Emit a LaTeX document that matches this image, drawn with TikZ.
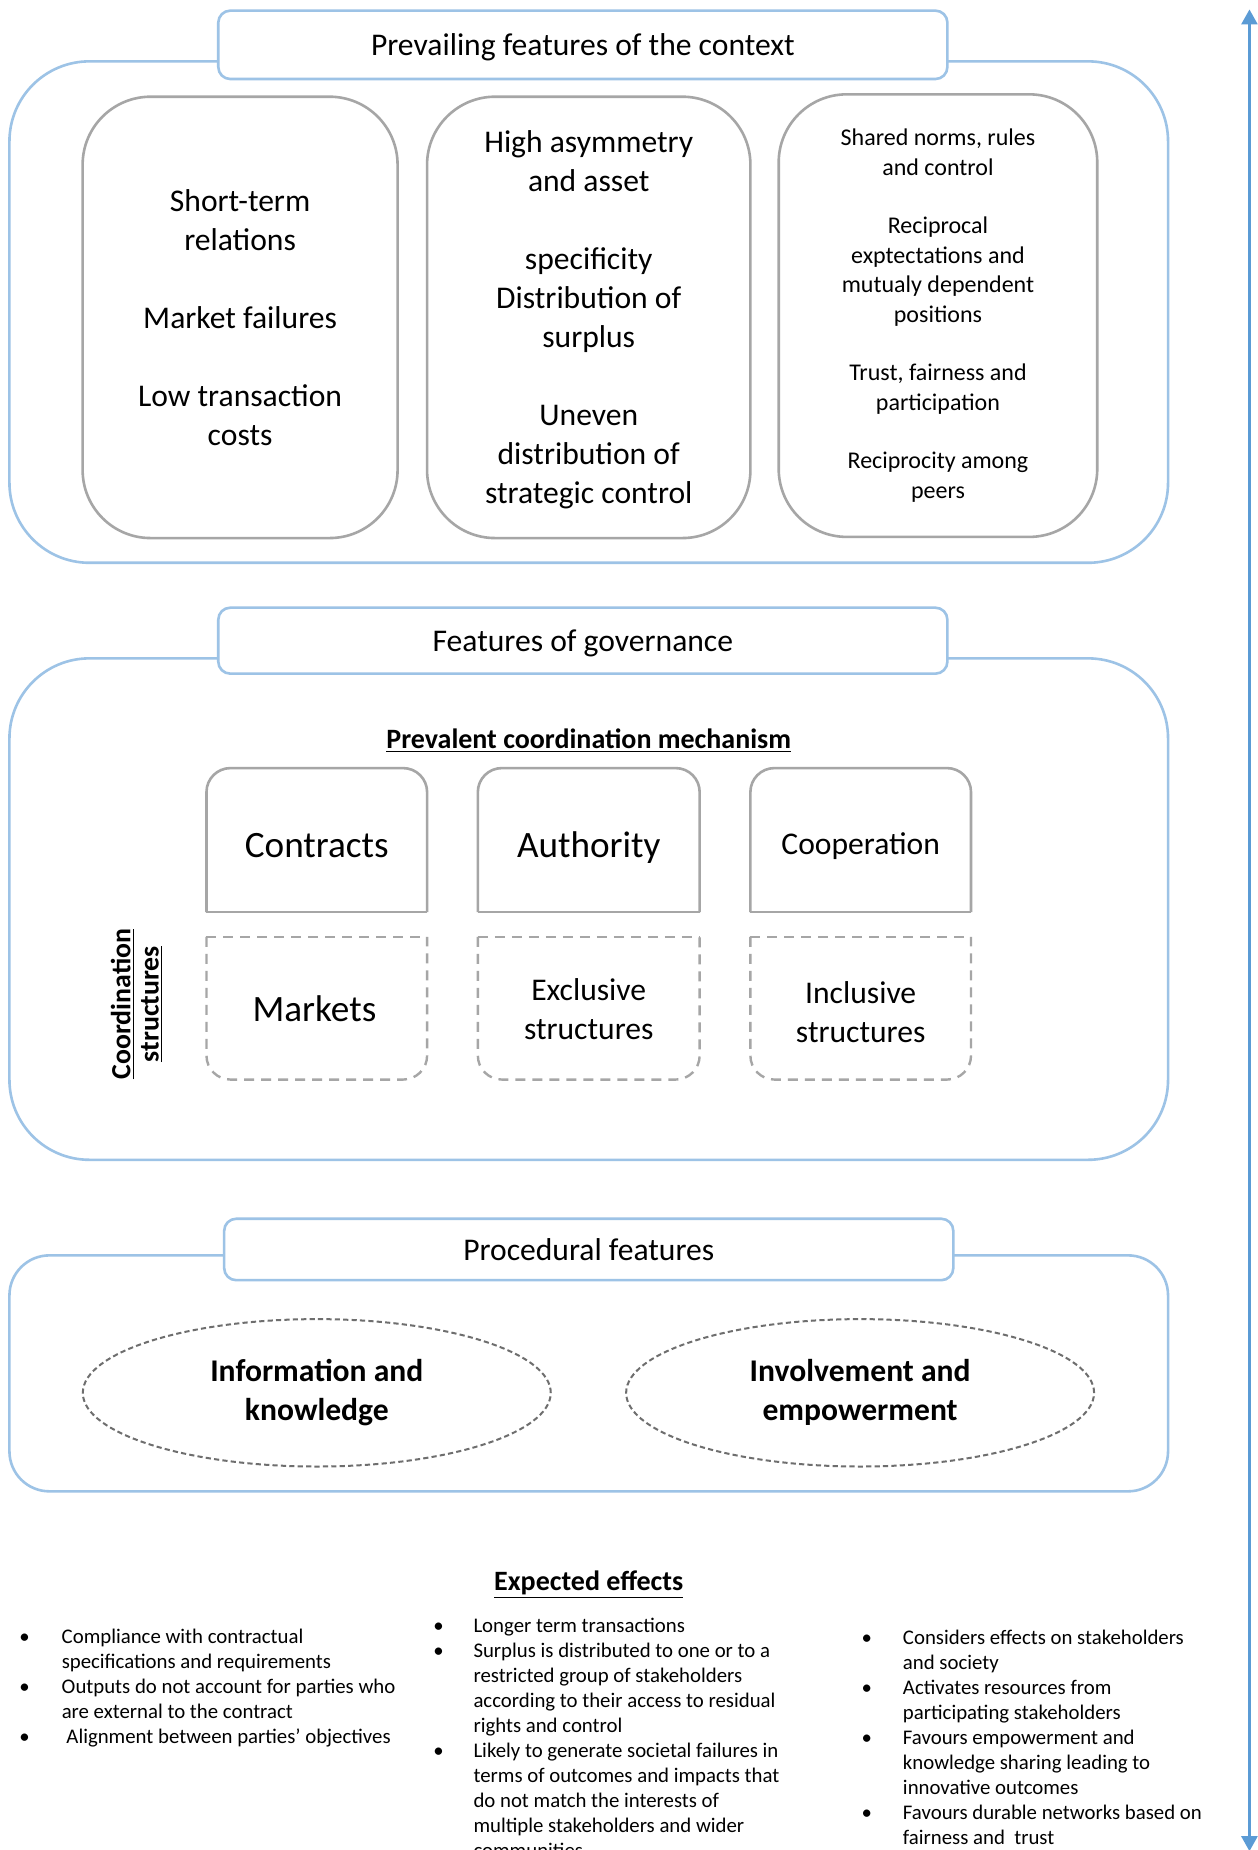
\documentclass[tikz,border=0pt]{standalone}
\usepackage{fontspec}
\setmainfont{Carlito}
\usetikzlibrary{arrows.meta,shapes.geometric}
\newlength\px \setlength\px{0.59pt}
\definecolor{lblue}{HTML}{9DC3E6}
\definecolor{ablue}{HTML}{5B9BD5}
\definecolor{bgray}{HTML}{A6A6A6}
\definecolor{egray}{HTML}{6E6E6E}
\newcommand\fsA{\fontsize{15.8}{19.5}\selectfont}
\newcommand\fsB{\fontsize{10.4}{12.5}\selectfont}
\newcommand\fsC{\fontsize{12}{14.7}\selectfont}
\newcommand\fsD{\fontsize{14}{17}\selectfont}
\newcommand\fsE{\fontsize{18.6}{22.7}\selectfont}
\newcommand\bl[1]{\makebox[#1\px][l]{\textbullet}}
\newcommand\ind[1]{\hspace*{#1\px}}
\begin{document}
\begin{tikzpicture}[x=0.59pt,y=-0.59pt,
  obox/.style={draw=lblue, line width=1.3pt},
  hdr/.style={draw=lblue, line width=1.3pt, fill=white, rounded corners=6pt, font=\fsA, inner sep=0pt, text depth=0pt},
  colbox/.style={draw=bgray, line width=1.3pt, rounded corners=34pt, align=center, inner sep=0pt},
  gline/.style={draw=bgray, line width=1.3pt},
  dline/.style={draw=bgray, line width=1.2pt, dash pattern=on 5pt off 3.5pt},
  ell/.style={ellipse, draw=egray, line width=1pt, dash pattern=on 2.6pt off 1.6pt, align=center, font=\bfseries\fsA, inner sep=0pt, minimum width=234pt, minimum height=73.7pt},
  bul/.style={anchor=base west, align=left, font=\fsB, inner sep=0pt},
  lbl/.style={align=center, inner sep=0pt},
  arr/.style={draw=ablue, line width=1.3pt, arrows={Triangle[width=8pt,length=7.5pt]-Triangle[width=8pt,length=7.5pt]}}
]
\useasboundingbox[fill=white] (0,0) rectangle (1066,1568);
\clip (0,0) rectangle (1066,1568);

% vertical double arrow
\coordinate (atop) at (1059,8);
\coordinate (abot) at (1059,1569);
\draw[arr] (atop) -- (abot);

% ---------- Section 1 ----------
\draw[obox, rounded corners=40pt] (8,52) rectangle (990,477);
\node[hdr, minimum width=364.6pt, minimum height=34.2pt] (h1) at (494,38) {Prevailing features of the context};
\node[colbox, font=\fsA, minimum width=157.5pt, minimum height=220.7pt] (c1) at (203.5,269)
  {Short-term\\relations\\[19.5pt]Market failures\\[19.5pt]Low transaction\\costs};
\node[colbox, font=\fsA, minimum width=161.7pt, minimum height=220.7pt, text depth=0pt] (c2) at (499,269)
  {High asymmetry\\and asset\\[19.5pt]specificity\\Distribution of\\surplus\\[19.5pt]Uneven\\distribution of\\strategic control};
\node[colbox, font=\fsC, minimum width=159.3pt, minimum height=221.3pt] (c3) at (795,267.5)
  {Shared norms, rules\\and control\\[14.7pt]Reciprocal\\exptectations and\\mutualy dependent\\positions\\[14.7pt]Trust, fairness and\\participation\\[14.7pt]Reciprocity among\\peers};

% ---------- Section 2 ----------
\draw[obox, rounded corners=40pt] (8,558) rectangle (990,983);
\node[hdr, minimum width=364.6pt, minimum height=33pt] (h2) at (494,543) {Features of governance};
\node[lbl, font=\bfseries\fsD] (pcm) at (499,627.5) {\underline{Prevalent coordination mechanism}};

% top row (solid, top corners rounded)
\draw[gline, rounded corners=12pt] (175,773) -- (175,651) -- (362,651) -- (362,773);
\draw[gline] (175,773) -- (362,773);
\draw[gline, rounded corners=12pt] (405,773) -- (405,651) -- (593,651) -- (593,773);
\draw[gline] (405,773) -- (593,773);
\draw[gline, rounded corners=12pt] (636,773) -- (636,651) -- (823,651) -- (823,773);
\draw[gline] (636,773) -- (823,773);
\node[lbl, font=\fsE] (contracts) at (268.5,717) {Contracts};
\node[lbl, font=\fsE] (authority) at (499,718) {Authority};
\node[lbl, font=\fsA] (cooperation) at (729.5,717.5) {Cooperation};

% bottom row (dashed, bottom corners rounded)
\draw[dline, rounded corners=12pt] (175,794) -- (175,915) -- (362,915) -- (362,794);
\draw[dline] (175,794) -- (362,794);
\draw[dline, rounded corners=12pt] (405,794) -- (405,915) -- (593,915) -- (593,794);
\draw[dline] (405,794) -- (593,794);
\draw[dline, rounded corners=12pt] (636,794) -- (636,915) -- (823,915) -- (823,794);
\draw[dline] (636,794) -- (823,794);
\node[lbl, font=\fsE] (markets) at (266.5,855) {Markets};
\node[lbl, font=\fsA] (exclusive) at (499,855.5) {Exclusive\\structures};
\node[lbl, font=\fsA] (inclusive) at (729.5,857.5) {Inclusive\\structures};

\node[lbl, rotate=90, font=\bfseries\fontsize{13.9}{14.2}\selectfont] (cs) at (116,851)
  {\underline{Coordination}\\\underline{structures}};

% ---------- Section 3 ----------
\draw[obox, rounded corners=20pt] (8,1064) rectangle (990,1264);
\node[hdr, minimum width=364.6pt, minimum height=30.7pt] (h3) at (499,1059) {Procedural features};
\node[ell] (info) at (268.5,1180.5) {Information and\\knowledge};
\node[ell] (invol) at (729,1180.5) {Involvement and\\empowerment};

% ---------- Expected effects ----------
\node[lbl, font=\bfseries\fsD] (ee) at (499,1343) {\underline{Expected effects}};

% base anchor of a multi-line node = baseline of its last line
\node[bul] (effL) at (16,1477.3)
  {\bl{36}Compliance with contractual\\
   \ind{36}specifications and requirements\\
   \bl{36}Outputs do not account for parties who\\
   \ind{36}are external to the contract\\
   \bl{40}Alignment between parties’ objectives};

\node[bul] (effM) at (367,1574)
  {\bl{34}Longer term transactions\\
   \bl{34}Surplus is distributed to one or to a\\
   \ind{34}restricted group of stakeholders\\
   \ind{34}according to their access to residual\\
   \ind{34}rights and control\\
   \bl{34}Likely to generate societal failures in\\
   \ind{34}terms of outcomes and impacts that\\
   \ind{34}do not match the interests of\\
   \ind{34}multiple stakeholders and wider\\
   \ind{34}communities};

\node[bul] (effR) at (730,1563)
  {\bl{35}Considers effects on stakeholders\\
   \ind{35}and society\\
   \bl{35}Activates resources from\\
   \ind{35}participating stakeholders\\
   \bl{35}Favours empowerment and\\
   \ind{35}knowledge sharing leading to\\
   \ind{35}innovative outcomes\\
   \bl{35}Favours durable networks based on\\
   \ind{35}fairness and\ \ trust};
\end{tikzpicture}
\end{document}
